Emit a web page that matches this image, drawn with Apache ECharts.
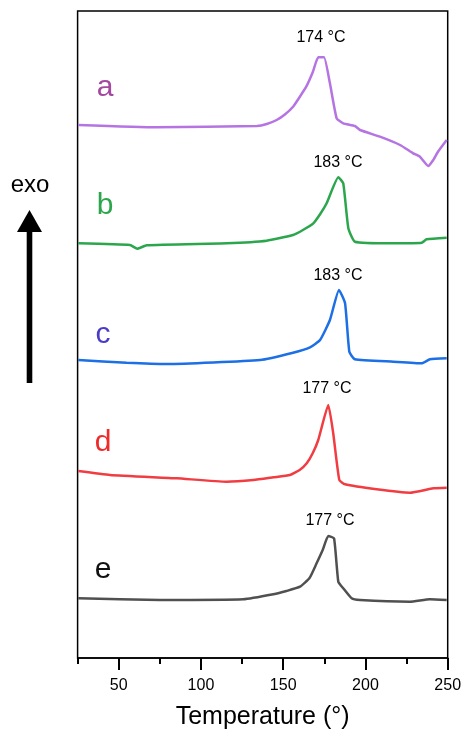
<!DOCTYPE html>
<html>
<head>
<meta charset="utf-8">
<script src="https://cdn.jsdelivr.net/npm/echarts@6/dist/echarts.min.js"></script>
<style>
  html, body { margin: 0; padding: 0; background: #fff; }
  #main { width: 465px; height: 735px; }
</style>
</head>
<body>
<div id="main"></div>
<script>
// DSC curves, heat flow in arbitrary units (stacked with offsets)
var tempA = [25.4, 73, 134, 140, 146, 151, 156, 160, 164, 168, 171.3, 174.8, 178.4, 182.5, 186.5, 193.6, 196.7, 208.8, 221, 229, 233.1, 238.2, 241.2, 244.1, 249.4];
var flowA = [533, 530.7, 532, 534, 538, 543.5, 551.3, 561, 571.3, 586, 600.7, 600.7, 574.7, 539.7, 534.7, 532, 528, 521.3, 513, 504.7, 501.3, 492, 498, 506.3, 518];

var tempB = [25.4, 56.9, 61.3, 67, 115.6, 140, 156, 162, 168.3, 172.5, 176.4, 183.5, 186.5, 189.6, 193.6, 217, 234.2, 237.2, 249.4];
var flowB = [414.7, 413, 409.3, 412.7, 414.7, 417.3, 423, 428, 434.7, 444, 454.7, 480.7, 474.7, 429.7, 416.3, 414.7, 415.3, 418.7, 420.3];

var tempC = [25.4, 54.8, 79.2, 135.9, 156, 166.3, 172.4, 178.4, 183.9, 187.6, 190.2, 193.6, 217, 234.2, 239.2, 249.4];
var flowC = [298, 295.3, 294, 298, 305.3, 310.7, 318, 338, 368, 354.7, 306.3, 298.7, 296.3, 294.7, 298.7, 299.7];

var tempD = [25.4, 44.7, 85.2, 115.6, 131.8, 144, 154.1, 160, 164.3, 168, 171.3, 177.4, 180.4, 184.1, 187.6, 206.8, 227, 241.2, 249.4];
var flowD = [187, 183, 179.7, 176.3, 178, 180.7, 183, 188, 194.7, 205, 218, 253, 224.7, 178, 173.7, 168.7, 165.3, 169.7, 170.3];

var tempE = [25.4, 75, 125.7, 144, 152, 160.2, 166, 170.3, 174, 177.4, 180.9, 183.5, 186.5, 191.6, 196.7, 227, 239.2, 249.4];
var flowE = [59.7, 58, 58.7, 63.7, 67, 71.3, 80, 94.7, 108, 122, 119.7, 76.3, 69.7, 59.7, 58, 56.3, 58.7, 58];

var majorTicks = [50, 100, 150, 200, 250];
var minorTicks = [25, 75, 125, 175, 225];

var fontName = 'Liberation Sans, Arial, sans-serif';

function pairs(xs, ys) {
    return xs.map(function (x, i) { return [x, ys[i]]; });
}

function curve(name, xs, ys, color) {
    return {
        name: name,
        type: 'line',
        data: pairs(xs, ys),
        showSymbol: false,
        smooth: 0.15,
        lineStyle: { color: color, width: 2.5 },
        itemStyle: { color: color },
        z: 3
    };
}

function label(x, y, text) {
    return { type: 'text', x: x, y: y, style: { text: text, font: '16px ' + fontName, fill: '#000', textAlign: 'center', textVerticalAlign: 'middle' } };
}

function letter(x, y, text, color) {
    return { type: 'text', x: x, y: y, style: { text: text, font: '30px ' + fontName, fill: color, textAlign: 'center', textVerticalAlign: 'middle' } };
}

var chart = echarts.init(document.getElementById('main'));

var option = {
    backgroundColor: '#fff',
    animation: false,
    grid: {
        left: 77.6, right: 17.3, top: 11, bottom: 77,
        show: true, borderColor: '#000', borderWidth: 1.5
    },
    xAxis: [
        {
            type: 'value', min: 25, max: 250,
            name: 'Temperature (°)', nameLocation: 'middle', nameGap: 47,
            nameTextStyle: { fontSize: 25, color: '#000', fontFamily: fontName },
            axisLine: { show: true, lineStyle: { color: '#000', width: 1.5 } },
            axisTick: { show: true, customValues: majorTicks, length: 12, lineStyle: { color: '#000', width: 2 } },
            axisLabel: { customValues: majorTicks, fontSize: 16, color: '#000', margin: 20, fontFamily: fontName },
            splitLine: { show: false }
        },
        {
            type: 'value', min: 25, max: 250, position: 'bottom',
            axisLine: { show: false },
            axisTick: { show: true, customValues: minorTicks, length: 6, lineStyle: { color: '#000', width: 2 } },
            axisLabel: { show: false },
            splitLine: { show: false }
        }
    ],
    yAxis: {
        type: 'value', min: 0, max: 647,
        show: false
    },
    series: [
        curve('a', tempA, flowA, '#b574e2'),
        curve('b', tempB, flowB, '#2ca64c'),
        curve('c', tempC, flowC, '#1c6fe4'),
        curve('d', tempD, flowD, '#f13c42'),
        curve('e', tempE, flowE, '#505050')
    ],
    graphic: [
        // peak labels
        label(321, 38, '174 °C'),
        label(338, 163, '183 °C'),
        label(338, 276, '183 °C'),
        label(327, 389, '177 °C'),
        label(330, 521, '177 °C'),
        // sample letters
        letter(105, 88, 'a', '#a4479f'),
        letter(105, 206, 'b', '#2ca64c'),
        letter(103, 335, 'c', '#4a3cc6'),
        letter(103, 443, 'd', '#f02a2a'),
        letter(103, 570, 'e', '#111'),
        // exo arrow
        { type: 'text', x: 30, y: 185, style: { text: 'exo', font: '24px ' + fontName, fill: '#000', textAlign: 'center', textVerticalAlign: 'middle' } },
        { type: 'rect', shape: { x: 26.7, y: 228, width: 5.6, height: 155 }, style: { fill: '#000' } },
        { type: 'polygon', shape: { points: [[17, 232], [42, 232], [29.5, 210]] }, style: { fill: '#000' } }
    ]
};

chart.setOption(option);
</script>
</body>
</html>
